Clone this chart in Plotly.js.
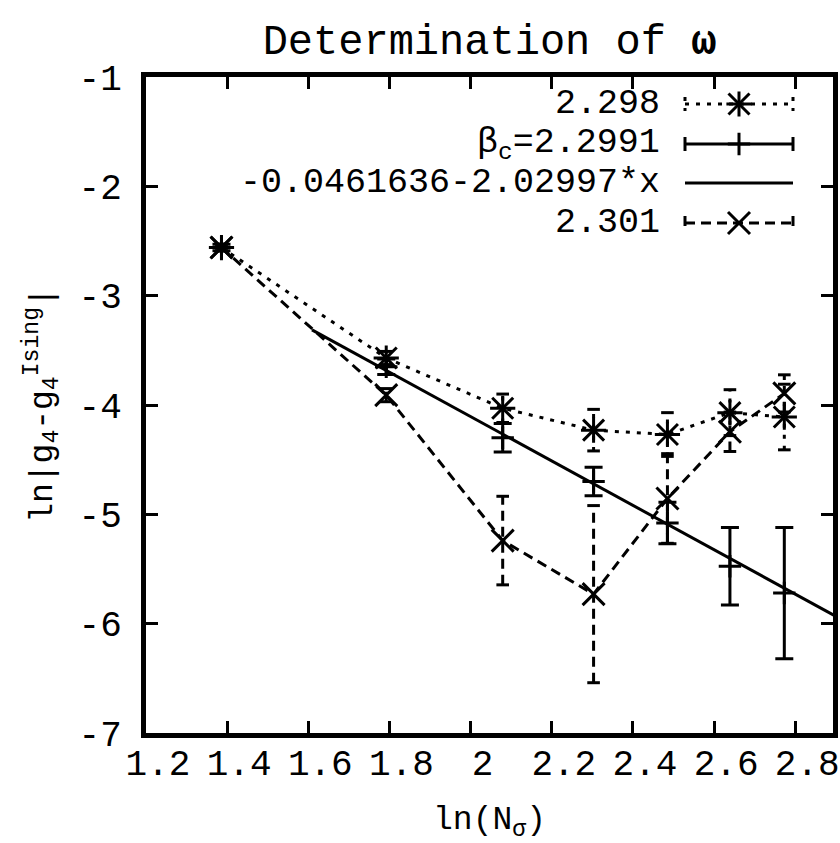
<!DOCTYPE html>
<html>
<head>
<meta charset="utf-8">
<script src="https://cdn.plot.ly/plotly-3.0.1.min.js"></script>
<style>html,body{margin:0;padding:0;background:#fff;}#chart{width:840px;height:843px;}</style>
</head>
<body>
<div id="chart"></div>
<script>
// ---- data ----
const lnN = [1.386, 1.792, 2.079, 2.303, 2.485, 2.639, 2.773];

const y2298 = [-2.56, -3.57, -4.03, -4.23, -4.27, -4.07, -4.11];
const e2298 = [0.03, 0.06, 0.13, 0.19, 0.20, 0.21, 0.30];

const yBc = [-2.56, -3.65, -4.30, -4.70, -5.08, -5.475, -5.72];
const eBc = [0.03, 0.07, 0.13, 0.13, 0.19, 0.355, 0.60];

const y2301 = [-2.56, -3.91, -5.24, -5.73, -4.855, -4.245, -3.894];
const e2301 = [0.03, 0.06, 0.405, 0.81, 0.41, 0.18, 0.17];

const fitA = -0.0461636, fitB = -2.02997;
const fitX = [1.609, 2.95];

const xTicks = [1.2, 1.4, 1.6, 1.8, 2.0, 2.2, 2.4, 2.6, 2.8];
const xTickText = ['1.2', '1.4', '1.6', '1.8', '2', '2.2', '2.4', '2.6', '2.8'];
const yTicks = [-7, -6, -5, -4, -3, -2, -1];
const yTickText = ['-7', '-6', '-5', '-4', '-3', '-2', '-1'];

const legendNames = ['2.298', 'β<sub>c</sub>=2.2991', '-0.0461636-2.02997*x', '2.301'];

// ---- styling ----
const FONT = 'Liberation Mono, Courier New, monospace';
const DOT = '4px,7px';
const DASH = '10px,6px';
const LW = 3;

function errSegments(x, y, e) {
  const sx = [], sy = [];
  for (let i = 0; i < x.length; i++) { sx.push(x[i], x[i], null); sy.push(y[i] - e[i], y[i] + e[i], null); }
  return {x: sx, y: sy};
}
function errCaps(x, y, e) {
  const cx = [], cy = [];
  for (let i = 0; i < x.length; i++) { cx.push(x[i], x[i]); cy.push(y[i] - e[i], y[i] + e[i]); }
  return {x: cx, y: cy};
}
function mk(symbol, size) {
  return {symbol: symbol, size: size, color: 'black', line: {color: 'black', width: LW}};
}

// gnuplot point types as Plotly symbol lists (asterisk = plus + x)
const PT_STAR = [['cross-thin-open', 18], ['x-thin-open', 21]];
const PT_PLUS = [['cross-thin-open', 16]];
const PT_X = [['x-thin-open', 22]];

const traces = [];
function addErrorLines(y, e, dash, pts) {
  traces.push({x: lnN, y: y, mode: 'lines', line: {color: 'black', width: LW, dash: dash}, hoverinfo: 'skip'});
  const s = errSegments(lnN, y, e);
  traces.push({x: s.x, y: s.y, mode: 'lines', line: {color: 'black', width: LW, dash: dash}, hoverinfo: 'skip'});
  const c = errCaps(lnN, y, e);
  traces.push({x: c.x, y: c.y, mode: 'markers', marker: mk('line-ew-open', 9), hoverinfo: 'skip'});
  pts.forEach(p => traces.push({x: lnN, y: y, mode: 'markers', marker: mk(p[0], p[1])}));
}

addErrorLines(y2298, e2298, DOT, PT_STAR);

traces.push({x: lnN, y: yBc, mode: 'markers', marker: mk(PT_PLUS[0][0], PT_PLUS[0][1]),
  error_y: {type: 'data', array: eBc, visible: true, color: 'black', thickness: LW, width: 9}});

traces.push({x: fitX, y: fitX.map(v => fitA + fitB * v), mode: 'lines', line: {color: 'black', width: LW}});

addErrorLines(y2301, e2301, DASH, PT_X);

// ---- hand-made gnuplot style key (text left of sample) ----
const PL = 146, PR = 833, PT = 77, PB = 733;
const px2p = px => (px - PL) / (PR - PL);
const py2p = py => (PB - py) / (PB - PT);
const keyRows = [104, 144, 183, 223];
const keyTextX = 662, keyL = 685, keyR = 793, keyM = 739, capH = 7;
const keyDash = [DOT, 'solid', 'solid', DASH];
const keyCaps = [true, true, false, true];
const keyPts = [PT_STAR, PT_PLUS, [], PT_X];

const shapes = [], annotations = [];
keyRows.forEach((py, i) => {
  shapes.push({type: 'line', xref: 'paper', yref: 'paper', x0: px2p(keyL), x1: px2p(keyR), y0: py2p(py), y1: py2p(py),
    line: {color: 'black', width: LW, dash: keyDash[i]}});
  if (keyCaps[i]) {
    [keyL, keyR].forEach(cx => shapes.push({type: 'line', xref: 'paper', yref: 'paper', x0: px2p(cx), x1: px2p(cx),
      y0: py2p(py - capH), y1: py2p(py + capH), line: {color: 'black', width: LW, dash: keyDash[i]}}));
  }
  annotations.push({xref: 'paper', yref: 'paper', x: px2p(keyTextX), y: py2p(py), xanchor: 'right', yanchor: 'middle',
    text: legendNames[i], showarrow: false, font: {family: FONT, size: 35, color: 'black'}});
  keyPts[i].forEach(p => traces.push({x: [px2p(keyM)], y: [py2p(py)], xaxis: 'x2', yaxis: 'y2', mode: 'markers',
    hoverinfo: 'skip', marker: mk(p[0], p[1])}));
});

const layout = {
  width: 840, height: 843,
  margin: {l: PL, r: 840 - PR, t: PT, b: 843 - PB},
  paper_bgcolor: 'white', plot_bgcolor: 'white',
  showlegend: false,
  font: {family: FONT, size: 36, color: 'black'},
  title: {text: 'Determination of <b>ω</b>', font: {family: FONT, size: 42, color: 'black'},
    x: 0.5, xref: 'paper', y: 1 - 39 / 843, yref: 'container', yanchor: 'middle'},
  xaxis: {range: [1.2, 2.893], tickmode: 'array', tickvals: xTicks, ticktext: xTickText,
    showgrid: false, zeroline: false, showline: true, linecolor: 'black', linewidth: 5, mirror: 'ticks',
    ticks: 'inside', ticklen: 12, tickwidth: 3, tickcolor: 'black', ticklabelshift: 12, ticklabelstandoff: -6,
    tickfont: {family: FONT, size: 36, color: 'black'},
    title: {text: 'ln(N<sub>σ</sub>)', font: {family: FONT, size: 33, color: 'black'}, standoff: 30}},
  yaxis: {range: [-7, -1], tickmode: 'array', tickvals: yTicks, ticktext: yTickText,
    showgrid: false, zeroline: false, showline: true, linecolor: 'black', linewidth: 5, mirror: 'ticks',
    ticks: 'inside', ticklen: 12, tickwidth: 3, tickcolor: 'black', ticklabelstandoff: 12,
    tickfont: {family: FONT, size: 36, color: 'black'},
    title: {text: 'ln|g<sub>4</sub>-g<sub>4</sub><sup>Ising</sup>|', font: {family: FONT, size: 33, color: 'black'}, standoff: 18}},
  xaxis2: {overlaying: 'x', range: [0, 1], visible: false, anchor: 'y2'},
  yaxis2: {overlaying: 'y', range: [0, 1], visible: false, anchor: 'x2'},
  shapes: shapes,
  annotations: annotations
};

Plotly.newPlot('chart', traces, layout, {staticPlot: true, displayModeBar: false});
</script>
</body>
</html>
